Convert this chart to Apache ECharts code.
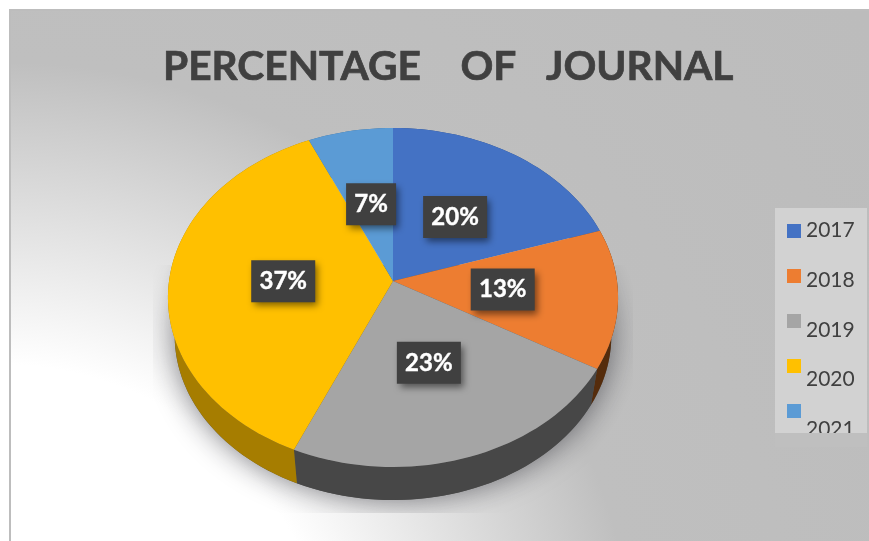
<!DOCTYPE html>
<html><head><meta charset="utf-8">
<style>html,body{margin:0;padding:0;background:#fff}#c{width:869px;height:541px;filter:blur(0.45px)}</style>
<script src="https://cdn.jsdelivr.net/npm/echarts@6/dist/echarts.min.js"></script>
</head><body><div id="c"></div>
<script>
const categories = ['2017','2018','2019','2020','2021'];
const percentages = [20, 13.3, 23.3, 36.7, 6.7];
const titleText = 'PERCENTAGE    OF   JOURNAL';

const topColors = ['#4472C4','#ED7D31','#A5A5A5','#FFC000','#5B9BD5'];
const wallColors = ['#2b4a80','#552c0c','#474747','#a67d00','#3a6a94'];
const textDark = '#404040';
const apex = {x:393, y:281}, persp = 0.0973, radX = 224, radY = 167.9;
const rimScale = 0.97, rimDrop = 38.6;

const total = percentages.reduce((a,b)=>a+b,0);
function project(deg, r){
  const t = deg*Math.PI/180, X = Math.sin(t)*r, Y = -Math.cos(t)*r, d = 1-persp*Y;
  return [apex.x+radX*X/d, apex.y+radY*Y/d];
}
function arc(a0,a1,lower){
  const n = Math.max(2,Math.ceil((a1-a0)/2)), out=[];
  for(let i=0;i<=n;i++){
    const p=project(a0+(a1-a0)*i/n,1);
    out.push(lower?[apex.x+(p[0]-apex.x)*rimScale, apex.y+(p[1]-apex.y)*rimScale+rimDrop]:p);
  }
  return out;
}
function renderSlice(params, api){
  const i = params.seriesIndex, value = api.value(0), start = api.value(1);
  const a0 = start/total*360, a1 = (start+value)/total*360;
  const top = arc(a0,a1,false), kids = [];
  if(i===0){
    kids.push({type:'polygon',z2:0,shape:{points:arc(0,360,true)},
      style:{fill:'#555',shadowBlur:30,shadowColor:'rgba(20,20,30,0.55)'},
      clipPath:{type:'rect',shape:{x:153,y:265,width:480,height:248}}});
  }
  kids.push({type:'polygon',z2:1,shape:{points:top.concat(arc(a0,a1,true).reverse())},
    style:{fill:wallColors[i]}});
  kids.push({type:'polygon',z2:2,shape:{points:[[apex.x,apex.y]].concat(top)},
    style:{fill:topColors[i]}});
  const m = project((a0+a1)/2,0.49), lx = m[0], ly = m[1];
  const txt = Math.round(value/total*100)+'%', w = txt.length>2?64:50, h = 42;
  kids.push({type:'rect',z2:5,shape:{x:lx-w/2,y:ly-h/2,width:w,height:h},
    style:{fill:'#404040',shadowBlur:7,shadowOffsetX:3,shadowOffsetY:4,shadowColor:'rgba(0,0,0,0.5)'}});
  kids.push({type:'text',z2:6,x:lx,y:ly,
    style:{text:txt,fill:'#fff',font:'bold 24px Lato, "Open Sans", sans-serif',align:'center',verticalAlign:'middle',
      stroke:'#fff',lineWidth:0.4}});
  return {type:'group',children:kids};
}
let acc = 0;
const series = categories.map((name,i)=>{
  const s = {type:'custom',name,coordinateSystem:'none',animation:false,silent:true,
    itemStyle:{color:topColors[i]},
    data:[[percentages[i],acc]],renderItem:renderSlice};
  acc += percentages[i];
  return s;
});
const chart = echarts.init(document.getElementById('c'),null,{renderer:'canvas'});
chart.setOption({
  animation:false,
  backgroundColor:'#fff',
  title:{text:titleText,left:163,top:46,padding:0,
    textStyle:{fontFamily:'Lato',fontWeight:'bold',fontSize:40.7,color:textDark,textBorderColor:textDark,textBorderWidth:0.7}},
  legend:[
    {orient:'vertical',left:787,top:224,padding:0,icon:'rect',itemWidth:14,itemHeight:14,itemGap:31,
      selectedMode:false,data:categories,formatter:()=>'',textStyle:{fontSize:1}},
    {orient:'vertical',left:787,top:220,padding:0,icon:'rect',itemWidth:14,itemHeight:14,itemGap:28.7,itemTextGap:7,
      selectedMode:false,data:categories,itemStyle:{color:'transparent',opacity:0},
      textStyle:{fontFamily:'Lato',fontSize:21,color:textDark}}
  ],
  graphic:[
    {type:'rect',z:0,shape:{x:10,y:10,width:870,height:540},
      style:{fill:new echarts.graphic.RadialGradient(0,700,1100,[
        {offset:0,color:'#ffffff'},{offset:0.305,color:'#ffffff'},{offset:0.58,color:'#bfbfbf'},{offset:1,color:'#bcbcbc'}],true),
        stroke:'#bdbdbd',lineWidth:2}},
    {type:'rect',z:1,shape:{x:775,y:208,width:92,height:225},style:{fill:'#d2d2d2'}},
    {type:'rect',z:6,shape:{x:775,y:433,width:92,height:14},style:{fill:'#bfbfbf'}}
  ],
  series
});
</script></body></html>
